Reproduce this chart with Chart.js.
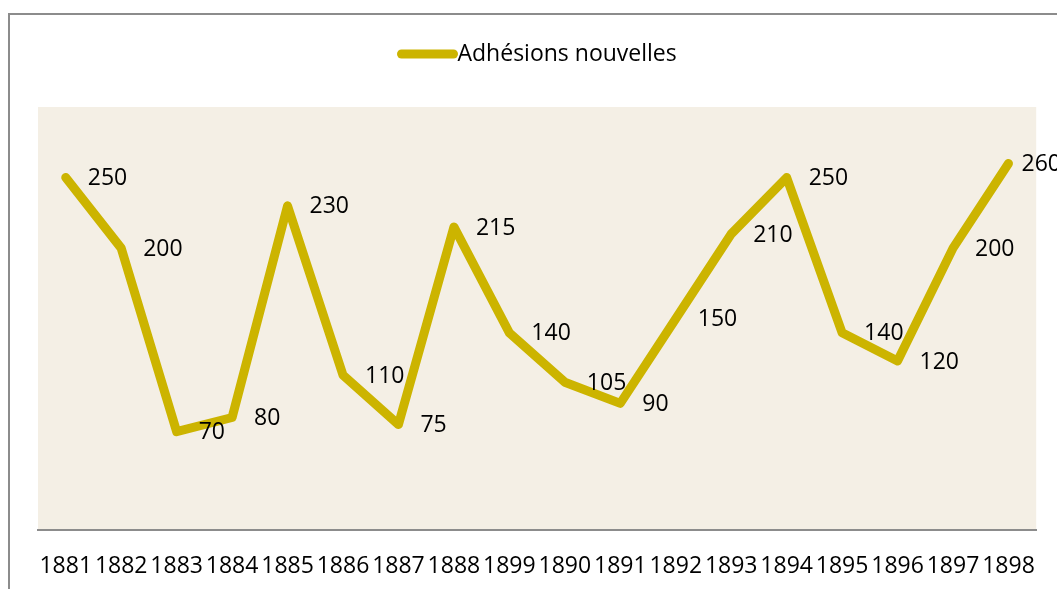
<!DOCTYPE html>
<html>
<head>
<meta charset="utf-8">
<script src="https://cdn.jsdelivr.net/npm/chart.js@4.4.0/dist/chart.umd.min.js"></script>
<style>
  html, body { margin: 0; padding: 0; background: #fff; }
  #chart { display: block; }
</style>
</head>
<body>
<canvas id="chart" width="1057" height="589"></canvas>
<script>
// data
const years = ['1881', '1882', '1883', '1884', '1885', '1886', '1887', '1888', '1899',
               '1890', '1891', '1892', '1893', '1894', '1895', '1896', '1897', '1898'];
const adhesions = [250, 200, 70, 80, 230, 110, 75, 215, 140, 105, 90, 150, 210, 250, 140, 120, 200, 260];
const seriesName = 'Adhésions nouvelles';
const yRange = [0, 300];

const lineColor = '#ccb400';
const fontFamily = '"Open Sans", "Noto Sans", sans-serif';
const fontSize = 23;

// white page, grey frame and beige plot area
const framePlugin = {
	id: 'frame',
	beforeDraw(chart) {
		const ctx = chart.ctx;
		const area = chart.chartArea;
		ctx.save();
		ctx.fillStyle = '#fff';
		ctx.fillRect(0, 0, chart.width, chart.height);
		ctx.strokeStyle = '#8c8c8c';
		ctx.lineWidth = 2;
		ctx.strokeRect(9, 14, chart.width + 20, chart.height + 20);
		ctx.fillStyle = '#f4efe5';
		ctx.fillRect(area.left, area.top, area.right - area.left, area.bottom - area.top);
		ctx.restore();
	}
};

// value labels to the right of each point
const valueLabels = {
	id: 'valueLabels',
	afterDatasetsDraw(chart) {
		const ctx = chart.ctx;
		const meta = chart.getDatasetMeta(0);
		ctx.save();
		ctx.font = fontSize + 'px ' + fontFamily;
		ctx.fillStyle = '#000';
		ctx.textAlign = 'left';
		ctx.textBaseline = 'middle';
		meta.data.forEach((pt, i) => {
			const txt = String(adhesions[i]);
			const w = ctx.measureText(txt).width;
			const x = Math.min(pt.x + 22, chart.width - w + 4);
			ctx.fillText(txt, x, pt.y + 1);
		});
		ctx.restore();
	}
};

// legend: thick line sample followed by the series name
const lineLegend = {
	id: 'lineLegend',
	afterDraw(chart) {
		const ctx = chart.ctx;
		const area = chart.chartArea;
		ctx.save();
		ctx.font = fontSize + 'px ' + fontFamily;
		const tw = ctx.measureText(seriesName).width;
		const sample = 60;
		const total = sample + tw;
		const x0 = (area.left + area.right) / 2 - total / 2;
		const y = 54;
		ctx.strokeStyle = lineColor;
		ctx.lineWidth = 9;
		ctx.lineCap = 'round';
		ctx.beginPath();
		ctx.moveTo(x0 + 4, y);
		ctx.lineTo(x0 + sample - 4, y);
		ctx.stroke();
		ctx.fillStyle = '#000';
		ctx.textBaseline = 'middle';
		ctx.fillText(seriesName, x0 + sample, y);
		ctx.restore();
	}
};

new Chart(document.getElementById('chart').getContext('2d'), {
	type: 'line',
	data: {
		labels: years,
		datasets: [{
			label: seriesName,
			data: adhesions,
			borderColor: lineColor,
			backgroundColor: lineColor,
			borderWidth: 9,
			borderCapStyle: 'round',
			borderJoinStyle: 'round',
			pointRadius: 0,
			tension: 0,
			fill: false
		}]
	},
	options: {
		responsive: false,
		animation: false,
		layout: { padding: { left: 38, right: 8, top: 107, bottom: -13 } },
		plugins: {
			legend: { display: false },
			tooltip: { enabled: false }
		},
		scales: {
			x: {
				offset: true,
				grid: { display: false, drawTicks: false },
				border: { display: true, color: '#8c8c8c', width: 2 },
				ticks: {
					color: '#000',
					font: { family: fontFamily, size: fontSize },
					padding: 22,
					maxRotation: 0,
					autoSkip: false
				}
			},
			y: {
				display: false,
				min: yRange[0],
				max: yRange[1]
			}
		}
	},
	plugins: [framePlugin, valueLabels, lineLegend]
});
</script>
</body>
</html>
